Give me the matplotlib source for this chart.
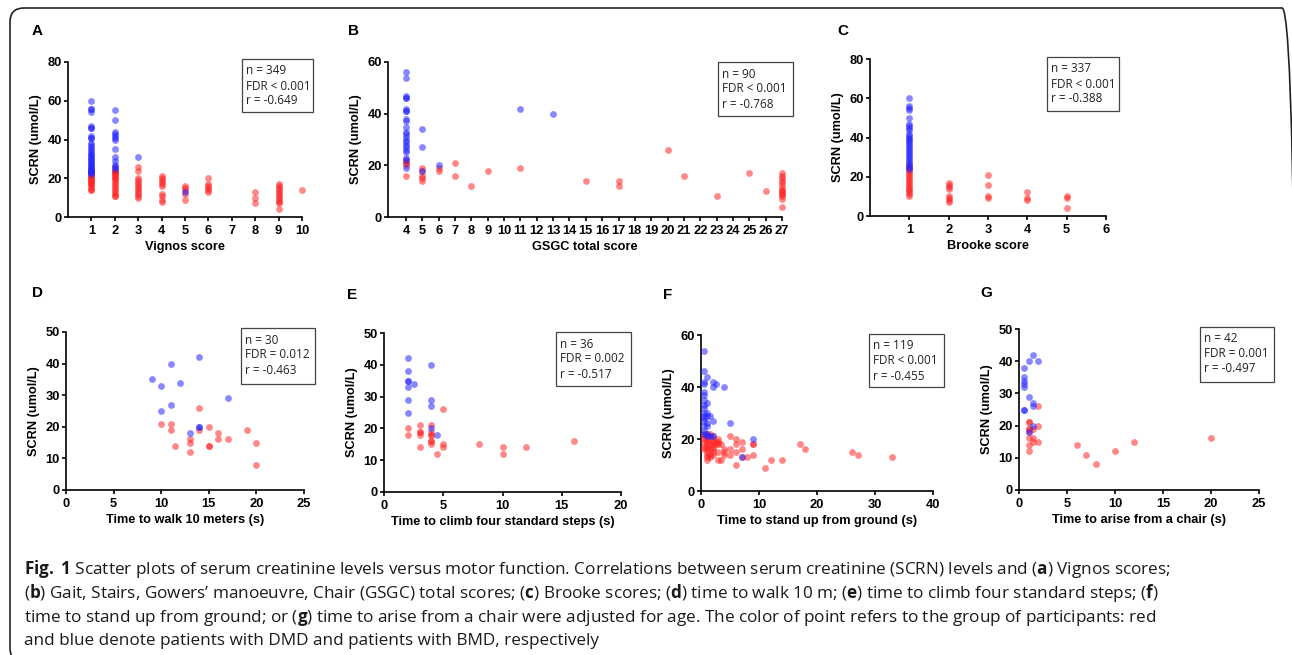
import matplotlib
matplotlib.use("Agg")
import matplotlib.pyplot as plt
from matplotlib.patches import FancyBboxPatch, Rectangle

W, H = 1292, 655
plt.rcParams['mathtext.fontset'] = 'custom'
plt.rcParams['mathtext.rm'] = 'Open Sans'
plt.rcParams['mathtext.bf'] = 'Open Sans:bold'
plt.rcParams['mathtext.it'] = 'Open Sans:italic'

# ---------------- data ----------------
# Panel A: Vignos score -> SCRN values
A_BMD = {1: [60, 56, 56, 54, 47, 46, 46, 42, 41, 41, 38, 37, 36, 35, 34, 33, 32, 32, 31, 30, 30,
             29, 28, 28, 27, 26, 26, 25, 25, 24, 24, 23, 23, 22],
         2: [55, 50, 44, 43, 42, 41, 40, 35, 31, 29, 27, 26, 25],
         3: [31], 5: [13]}
A_DMD = {1: [24, 23, 23, 22, 22, 21, 21, 20, 20, 19, 19, 18, 18, 17, 17, 16, 15, 14, 14],
         2: [26, 24, 24, 23, 23, 22, 22, 21, 20, 20, 19, 18, 17, 16, 15, 14, 13, 12, 11, 11],
         3: [26, 24, 20, 19, 18, 17, 16, 15, 14, 13, 12, 11, 10],
         4: [21, 20, 19, 18, 17, 16, 12, 11, 9, 8],
         5: [16, 15, 14, 12, 9],
         6: [20, 17, 16, 15, 14, 13],
         8: [13, 10, 7],
         9: [17, 16, 15, 14, 13, 12, 11, 10, 9, 8, 7, 4],
         10: [14]}

# Panel B: GSGC total score
B_BMD = {4: [56, 54, 47, 46, 46, 42, 41, 41, 38, 37, 35, 33, 32, 31, 30, 29, 28, 27, 26, 25, 23, 22, 19],
         5: [34, 27, 18], 6: [20], 11: [42], 13: [40]}
B_DMD = {4: [22, 21, 21, 20, 16], 5: [19, 18, 16, 15, 14], 6: [19, 18], 7: [21, 16], 8: [12],
         9: [18], 11: [19], 15: [14], 17: [14, 12], 20: [26], 21: [16], 23: [8], 25: [17], 26: [10],
         27: [17, 16, 15, 14, 13, 12, 11, 10, 10, 9, 9, 8, 7, 4]}

# Panel C: Brooke score
C_BMD = {1: [60, 56, 55, 54, 50, 47, 46, 45, 44, 42, 41, 40, 39, 38, 37, 36, 35, 34, 33, 32, 31, 30,
             29, 28, 27, 26, 25, 24]}
C_DMD = {1: [26, 25, 24, 24, 23, 22, 21, 20, 19, 18, 17, 16, 15, 14, 13, 12, 11, 10],
         2: [17, 16, 15, 14, 10, 9, 8, 7], 3: [21, 16, 10, 9], 4: [12, 9, 8], 5: [10, 9, 4]}

# Panel D: time to walk 10 m
D_BMD_x = [9, 10, 10, 11, 11, 12, 14, 17, 13, 14, 14]
D_BMD_y = [35, 33, 25, 40, 27, 34, 42, 29, 18, 20, 20]
D_DMD_x = [10, 11, 11, 11.5, 13, 13, 13, 14, 14, 15, 15, 15, 16, 16, 17, 19, 20, 20]
D_DMD_y = [21, 21, 19, 14, 16, 15, 12, 26, 19, 20, 14, 14, 18, 16, 16, 19, 15, 8]

# Panel E: time to climb four standard steps
E_BMD_x = [2, 2, 2, 2, 2, 2, 2, 2.5, 4, 4, 4, 4, 4.5]
E_BMD_y = [42, 38, 35, 35, 33, 29, 25, 34, 40, 29, 27, 20, 18]
E_DMD_x = [2, 2, 3, 3, 3, 3, 3, 4, 4, 4, 4, 4, 4, 4, 4.5, 5, 5, 5, 8, 10, 10, 12, 16]
E_DMD_y = [20, 18, 21, 19, 19, 18, 14, 21, 19, 18, 18, 16, 16, 15, 12, 26, 15, 14, 15, 14, 12, 14, 16]

# Panel F: time to stand up from ground
F_BMD = {0.5: [54, 46, 42, 41, 38, 37, 35, 33, 32, 30, 29, 28, 27, 25, 23, 22],
         1: [44, 34, 30, 29, 26, 25, 22, 21], 1.5: [29, 21], 2: [42, 40, 27, 21],
         2.5: [41], 4: [40], 5: [26], 7: [13], 9: [20]}
F_DMD = {0.5: [22, 21, 20, 19, 17, 16],
         1: [22, 21, 20, 19, 18, 17, 16, 15, 14, 13, 12],
         1.5: [22, 20, 18, 16, 14, 13],
         2: [21, 20, 19, 18, 17, 16, 15, 14],
         2.5: [19, 18], 3: [20, 19, 18, 15, 12], 3.5: [18, 12], 4: [16, 15, 14],
         5: [21, 16, 14], 6: [20, 18, 15, 10], 7: [19, 16, 13], 8: [13], 9: [18, 18, 14],
         11: [9], 12: [12], 14: [12], 17: [18], 18: [16], 26: [15], 27: [14], 33: [13]}

# Panel G: time to arise from a chair
G_BMD_x = [0.5, 0.5, 0.5, 0.5, 0.5, 0.5, 0.5, 1, 1, 1, 1.5, 1.5, 1.5, 1.5, 2]
G_BMD_y = [38, 35, 34, 33, 32, 25, 25, 40, 29, 18, 42, 27, 26, 20, 40]
G_DMD_x = [1, 1, 1, 1, 1, 1, 1, 1, 1.5, 1.5, 1.5, 2, 2, 2, 6, 7, 8, 10, 12, 20]
G_DMD_y = [21, 21, 19, 19, 18, 16, 14, 12, 19, 16, 15, 26, 20, 15, 14, 11, 8, 12, 15, 16]

STATS = {
    'A': ["n = 349", "FDR < 0.001", "r = -0.649"],
    'B': ["n = 90", "FDR < 0.001", "r = -0.768"],
    'C': ["n = 337", "FDR < 0.001", "r = -0.388"],
    'D': ["n = 30", "FDR = 0.012", "r = -0.463"],
    'E': ["n = 36", "FDR = 0.002", "r = -0.517"],
    'F': ["n = 119", "FDR < 0.001", "r = -0.455"],
    'G': ["n = 42", "FDR = 0.001", "r = -0.497"],
}
XLABELS = {
    'A': "Vignos score", 'B': "GSGC total score", 'C': "Brooke score",
    'D': "Time to walk 10 meters (s)", 'E': "Time to climb four standard steps (s)",
    'F': "Time to stand up from ground (s)", 'G': "Time to arise from a chair (s)",
}
CAPTION = [
    r"$\mathbf{Fig.}$ $\mathbf{1}$ Scatter plots of serum creatinine levels versus motor function. Correlations between serum creatinine (SCRN) levels and ($\mathbf{a}$) Vignos scores;",
    r"($\mathbf{b}$) Gait, Stairs, Gowers’ manoeuvre, Chair (GSGC) total scores; ($\mathbf{c}$) Brooke scores; ($\mathbf{d}$) time to walk 10 m; ($\mathbf{e}$) time to climb four standard steps; ($\mathbf{f}$)",
    r"time to stand up from ground; or ($\mathbf{g}$) time to arise from a chair were adjusted for age. The color of point refers to the group of participants: red",
    r"and blue denote patients with DMD and patients with BMD, respectively",
]

def flat(d):
    xs, ys = [], []
    for k, vals in d.items():
        for v in vals:
            xs.append(k)
            ys.append(v)
    return xs, ys

# ---------------- figure ----------------
fig = plt.figure(figsize=(W / 100, H / 100), dpi=100)

# rounded frame
frame = FancyBboxPatch((10, H - 662), 1286, 662 - 8,
                       boxstyle="round,pad=0,rounding_size=14",
                       transform=None, fill=False, ec='#222222', lw=1.2)
fig.patches.append(frame)

BOLD = 'Liberation Sans'
RED = (1.0, 0.15, 0.15)
BLUE = (0.15, 0.15, 1.0)

def make_ax(l, t, r, b):
    return fig.add_axes([l / W, 1 - b / H, (r - l) / W, (b - t) / H])

def style(ax, xlim, xticks, ylim, yticks, xlabel):
    ax.set_xlim(*xlim)
    ax.set_ylim(*ylim)
    ax.set_xticks(xticks)
    ax.set_yticks(yticks)
    for s in ['top', 'right']:
        ax.spines[s].set_visible(False)
    for s in ['left', 'bottom']:
        ax.spines[s].set_linewidth(1.2)
    ax.tick_params(axis='both', direction='out', length=3, width=1.2, labelsize=9.3)
    ax.tick_params(axis='y', pad=1.5)
    ax.tick_params(axis='x', pad=2.5)
    for lab in ax.get_xticklabels() + ax.get_yticklabels():
        lab.set_fontweight('bold')
        lab.set_family(BOLD)
    ax.set_xlabel(xlabel, fontsize=9.2, fontweight='bold', family=BOLD, labelpad=3)
    ax.set_ylabel("SCRN (umol/L)", fontsize=9.2, fontweight='bold', family=BOLD, labelpad=4)
    ax.patch.set_alpha(0)

def scatter(ax, xr, yr, xb, yb):
    ax.scatter(xr, yr, s=24, color=RED, alpha=0.55, linewidths=0, clip_on=False, zorder=3)
    ax.scatter(xb, yb, s=24, color=BLUE, alpha=0.55, linewidths=0, clip_on=False, zorder=3)

def statbox(key, l, t, r, b):
    fig.patches.append(Rectangle((l, H - b), r - l, b - t, transform=None,
                                 fill=True, fc='white', ec='#444444', lw=0.9, zorder=5))
    for i, line in enumerate(STATS[key]):
        fig.text((l + 4) / W, 1 - (t + 12 + 15 * i) / H, line, fontsize=8.5,
                 family='Open Sans', ha='left', va='center', color='#222222', zorder=6)

def letter(key, x, y):
    fig.text(x / W, 1 - y / H, key, fontsize=11, fontweight='bold', family=BOLD,
             ha='left', va='center')

# A
ax = make_ax(68, 62, 302, 217)
xr, yr = flat(A_DMD); xb, yb = flat(A_BMD)
scatter(ax, xr, yr, xb, yb)
style(ax, (0, 10), list(range(1, 11)), (0, 80), [0, 20, 40, 60, 80], XLABELS['A'])
statbox('A', 242, 59, 313, 112); letter('A', 32, 31)

# B
ax = make_ax(388, 62, 782, 217)
xr, yr = flat(B_DMD); xb, yb = flat(B_BMD)
scatter(ax, xr, yr, xb, yb)
style(ax, (2.9, 27), list(range(4, 28)), (0, 60), [0, 20, 40, 60], XLABELS['B'])
statbox('B', 718, 62, 793, 116); letter('B', 348, 31)

# C
ax = make_ax(870, 59, 1106, 216)
xr, yr = flat(C_DMD); xb, yb = flat(C_BMD)
scatter(ax, xr, yr, xb, yb)
style(ax, (0, 6), list(range(1, 7)), (0, 80), [0, 20, 40, 60, 80], XLABELS['C'])
statbox('C', 1047, 57, 1119, 111); letter('C', 837, 31)

# D
ax = make_ax(66, 332, 304, 490)
scatter(ax, D_DMD_x, D_DMD_y, D_BMD_x, D_BMD_y)
style(ax, (0, 25), [0, 5, 10, 15, 20, 25], (0, 50), [0, 10, 20, 30, 40, 50], XLABELS['D'])
statbox('D', 241, 328, 315, 384); letter('D', 32, 293)

# E
ax = make_ax(384, 333, 621, 492)
scatter(ax, E_DMD_x, E_DMD_y, E_BMD_x, E_BMD_y)
style(ax, (0, 20), [0, 5, 10, 15, 20], (0, 50), [0, 10, 20, 30, 40, 50], XLABELS['E'])
statbox('E', 556, 332, 631, 386); letter('E', 347, 295)

# F
ax = make_ax(701, 335, 933, 491)
xr, yr = flat(F_DMD); xb, yb = flat(F_BMD)
scatter(ax, xr, yr, xb, yb)
style(ax, (0, 40), [0, 10, 20, 30, 40], (0, 60), [0, 20, 40, 60], XLABELS['F'])
statbox('F', 869, 334, 944, 387); letter('F', 663, 295)

# G
ax = make_ax(1019, 329, 1259, 490)
scatter(ax, G_DMD_x, G_DMD_y, G_BMD_x, G_BMD_y)
style(ax, (0, 25), [0, 5, 10, 15, 20, 25], (0, 50), [0, 10, 20, 30, 40, 50], XLABELS['G'])
statbox('G', 1200, 327, 1274, 382); letter('G', 980, 293)

# caption
baselines = [574, 598, 622, 645]
texts = []
for line, yb_ in zip(CAPTION, baselines):
    t = fig.text(24 / W, 1 - yb_ / H, line, fontsize=14, family='Open Sans',
                 ha='left', va='baseline', color='#1a1a1a')
    texts.append(t)
r = fig.canvas.get_renderer()
w0 = texts[0].get_window_extent(r).width
fs = 14 * (1174 - 24) / w0
for t in texts:
    t.set_fontsize(fs)

fig.savefig("out.png", dpi=100)
